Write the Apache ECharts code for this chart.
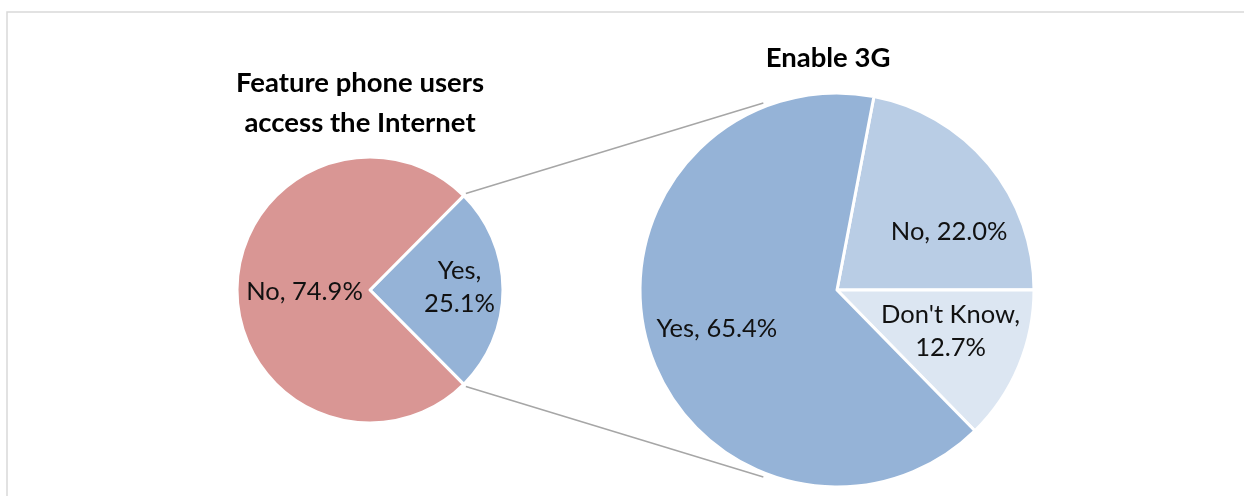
<!DOCTYPE html>
<html>
<head>
<meta charset="utf-8">
<script src="https://cdn.jsdelivr.net/npm/echarts@6/dist/echarts.min.js"></script>
<style>
  html, body { margin: 0; padding: 0; background: #fff; }
  #chart { width: 1244px; height: 496px; }
</style>
</head>
<body>
<div id="chart"></div>
<script>
// Share of feature phone users who access the Internet
const accessCategories = ['Yes', 'No'];
const accessValues = [25.1, 74.9];

// Breakdown of the "Yes" group: whether 3G is enabled
const enableCategories = ['No', "Don't Know", 'Yes'];
const enableValues = [22.0, 12.7, 65.4];

const leftTitle = 'Feature phone users\naccess the Internet';
const rightTitle = 'Enable 3G';

const FONT = 'Lato, "Liberation Sans", sans-serif';

// Pie geometry
const leftCenter = [370, 290], leftR = 133;
const rightCenter = [837, 290], rightR = 197;

// the "Yes" slice of the first pie is centred on the right-hand side
const yesShare = accessValues[0] / (accessValues[0] + accessValues[1]);
const leftStart = yesShare * 180;

const chart = echarts.init(document.getElementById('chart'), null, { renderer: 'canvas' });

// connector lines from the exploded slice edges to the second pie
const rad = d => d * Math.PI / 180;
const la = rad(leftStart);
const lr = leftR + 3;
const ra = rad(111.5);
const rr = rightR + 4;
const topStart = [leftCenter[0] + lr * Math.cos(la), leftCenter[1] - lr * Math.sin(la)];
const botStart = [leftCenter[0] + lr * Math.cos(la), leftCenter[1] + lr * Math.sin(la)];
const topEnd = [rightCenter[0] + rr * Math.cos(ra), rightCenter[1] - rr * Math.sin(ra)];
const botEnd = [rightCenter[0] + rr * Math.cos(ra), rightCenter[1] + rr * Math.sin(ra)];

const leftColors = ['#95B3D7', '#D99694'];
const rightColors = ['#B9CDE5', '#DCE6F2', '#95B3D7'];

// small nudges for the in-slice labels
const leftLabelShift = [[20, -3], [4, 2]];
const rightLabelShift = [[34, 7], [20, 2], [-23, 9]];

const labelStyle = {
  show: true,
  position: 'inside',
  color: '#111',
  fontFamily: FONT,
  fontSize: 25.5,
  lineHeight: 33,
  formatter: p => p.data.labelText
};

chart.setOption({
  animation: false,
  backgroundColor: '#fff',
  title: [
    {
      text: leftTitle,
      left: 355,
      top: 58,
      textAlign: 'center',
      textStyle: { fontFamily: FONT, fontWeight: 'bold', fontSize: 27.5, lineHeight: 40, color: '#000' }
    },
    {
      text: rightTitle,
      left: 823,
      top: 36,
      textAlign: 'center',
      textStyle: { fontFamily: FONT, fontWeight: 'bold', fontSize: 27.5, lineHeight: 34, color: '#000' }
    }
  ],
  graphic: [
    {
      type: 'rect',
      shape: { x: 7, y: 12, width: 1300, height: 600 },
      style: { fill: 'none', stroke: '#d9d9d9', lineWidth: 1.5 },
      silent: true,
      z: -10
    },
    {
      type: 'line',
      shape: { x1: topStart[0], y1: topStart[1], x2: topEnd[0], y2: topEnd[1] },
      style: { stroke: '#a6a6a6', lineWidth: 1.5 },
      z: -5
    },
    {
      type: 'line',
      shape: { x1: botStart[0], y1: botStart[1], x2: botEnd[0], y2: botEnd[1] },
      style: { stroke: '#a6a6a6', lineWidth: 1.5 },
      z: -5
    }
  ],
  series: [
    {
      type: 'pie',
      center: leftCenter,
      radius: [0, leftR],
      startAngle: leftStart,
      clockwise: true,
      avoidLabelOverlap: false,
      silent: true,
      itemStyle: { borderColor: '#fff', borderWidth: 3 },
      label: labelStyle,
      labelLine: { show: false },
      labelLayout: p => ({ dx: leftLabelShift[p.dataIndex][0], dy: leftLabelShift[p.dataIndex][1] }),
      data: accessCategories.map((c, i) => ({
        name: c,
        value: accessValues[i],
        labelText: c === 'Yes' ? c + ',\n' + accessValues[i].toFixed(1) + '%' : c + ', ' + accessValues[i].toFixed(1) + '%',
        itemStyle: { color: leftColors[i] }
      }))
    },
    {
      type: 'pie',
      center: rightCenter,
      radius: [0, rightR],
      // the "No" slice begins just right of twelve o'clock
      startAngle: 79.2,
      clockwise: true,
      avoidLabelOverlap: false,
      silent: true,
      itemStyle: { borderColor: '#fff', borderWidth: 3 },
      label: labelStyle,
      labelLine: { show: false },
      labelLayout: p => ({ dx: rightLabelShift[p.dataIndex][0], dy: rightLabelShift[p.dataIndex][1] }),
      data: enableCategories.map((c, i) => ({
        name: c,
        value: enableValues[i],
        labelText: c === "Don't Know" ? c + ',\n' + enableValues[i].toFixed(1) + '%' : c + ', ' + enableValues[i].toFixed(1) + '%',
        itemStyle: { color: rightColors[i] }
      }))
    }
  ]
});
</script>
</body>
</html>
